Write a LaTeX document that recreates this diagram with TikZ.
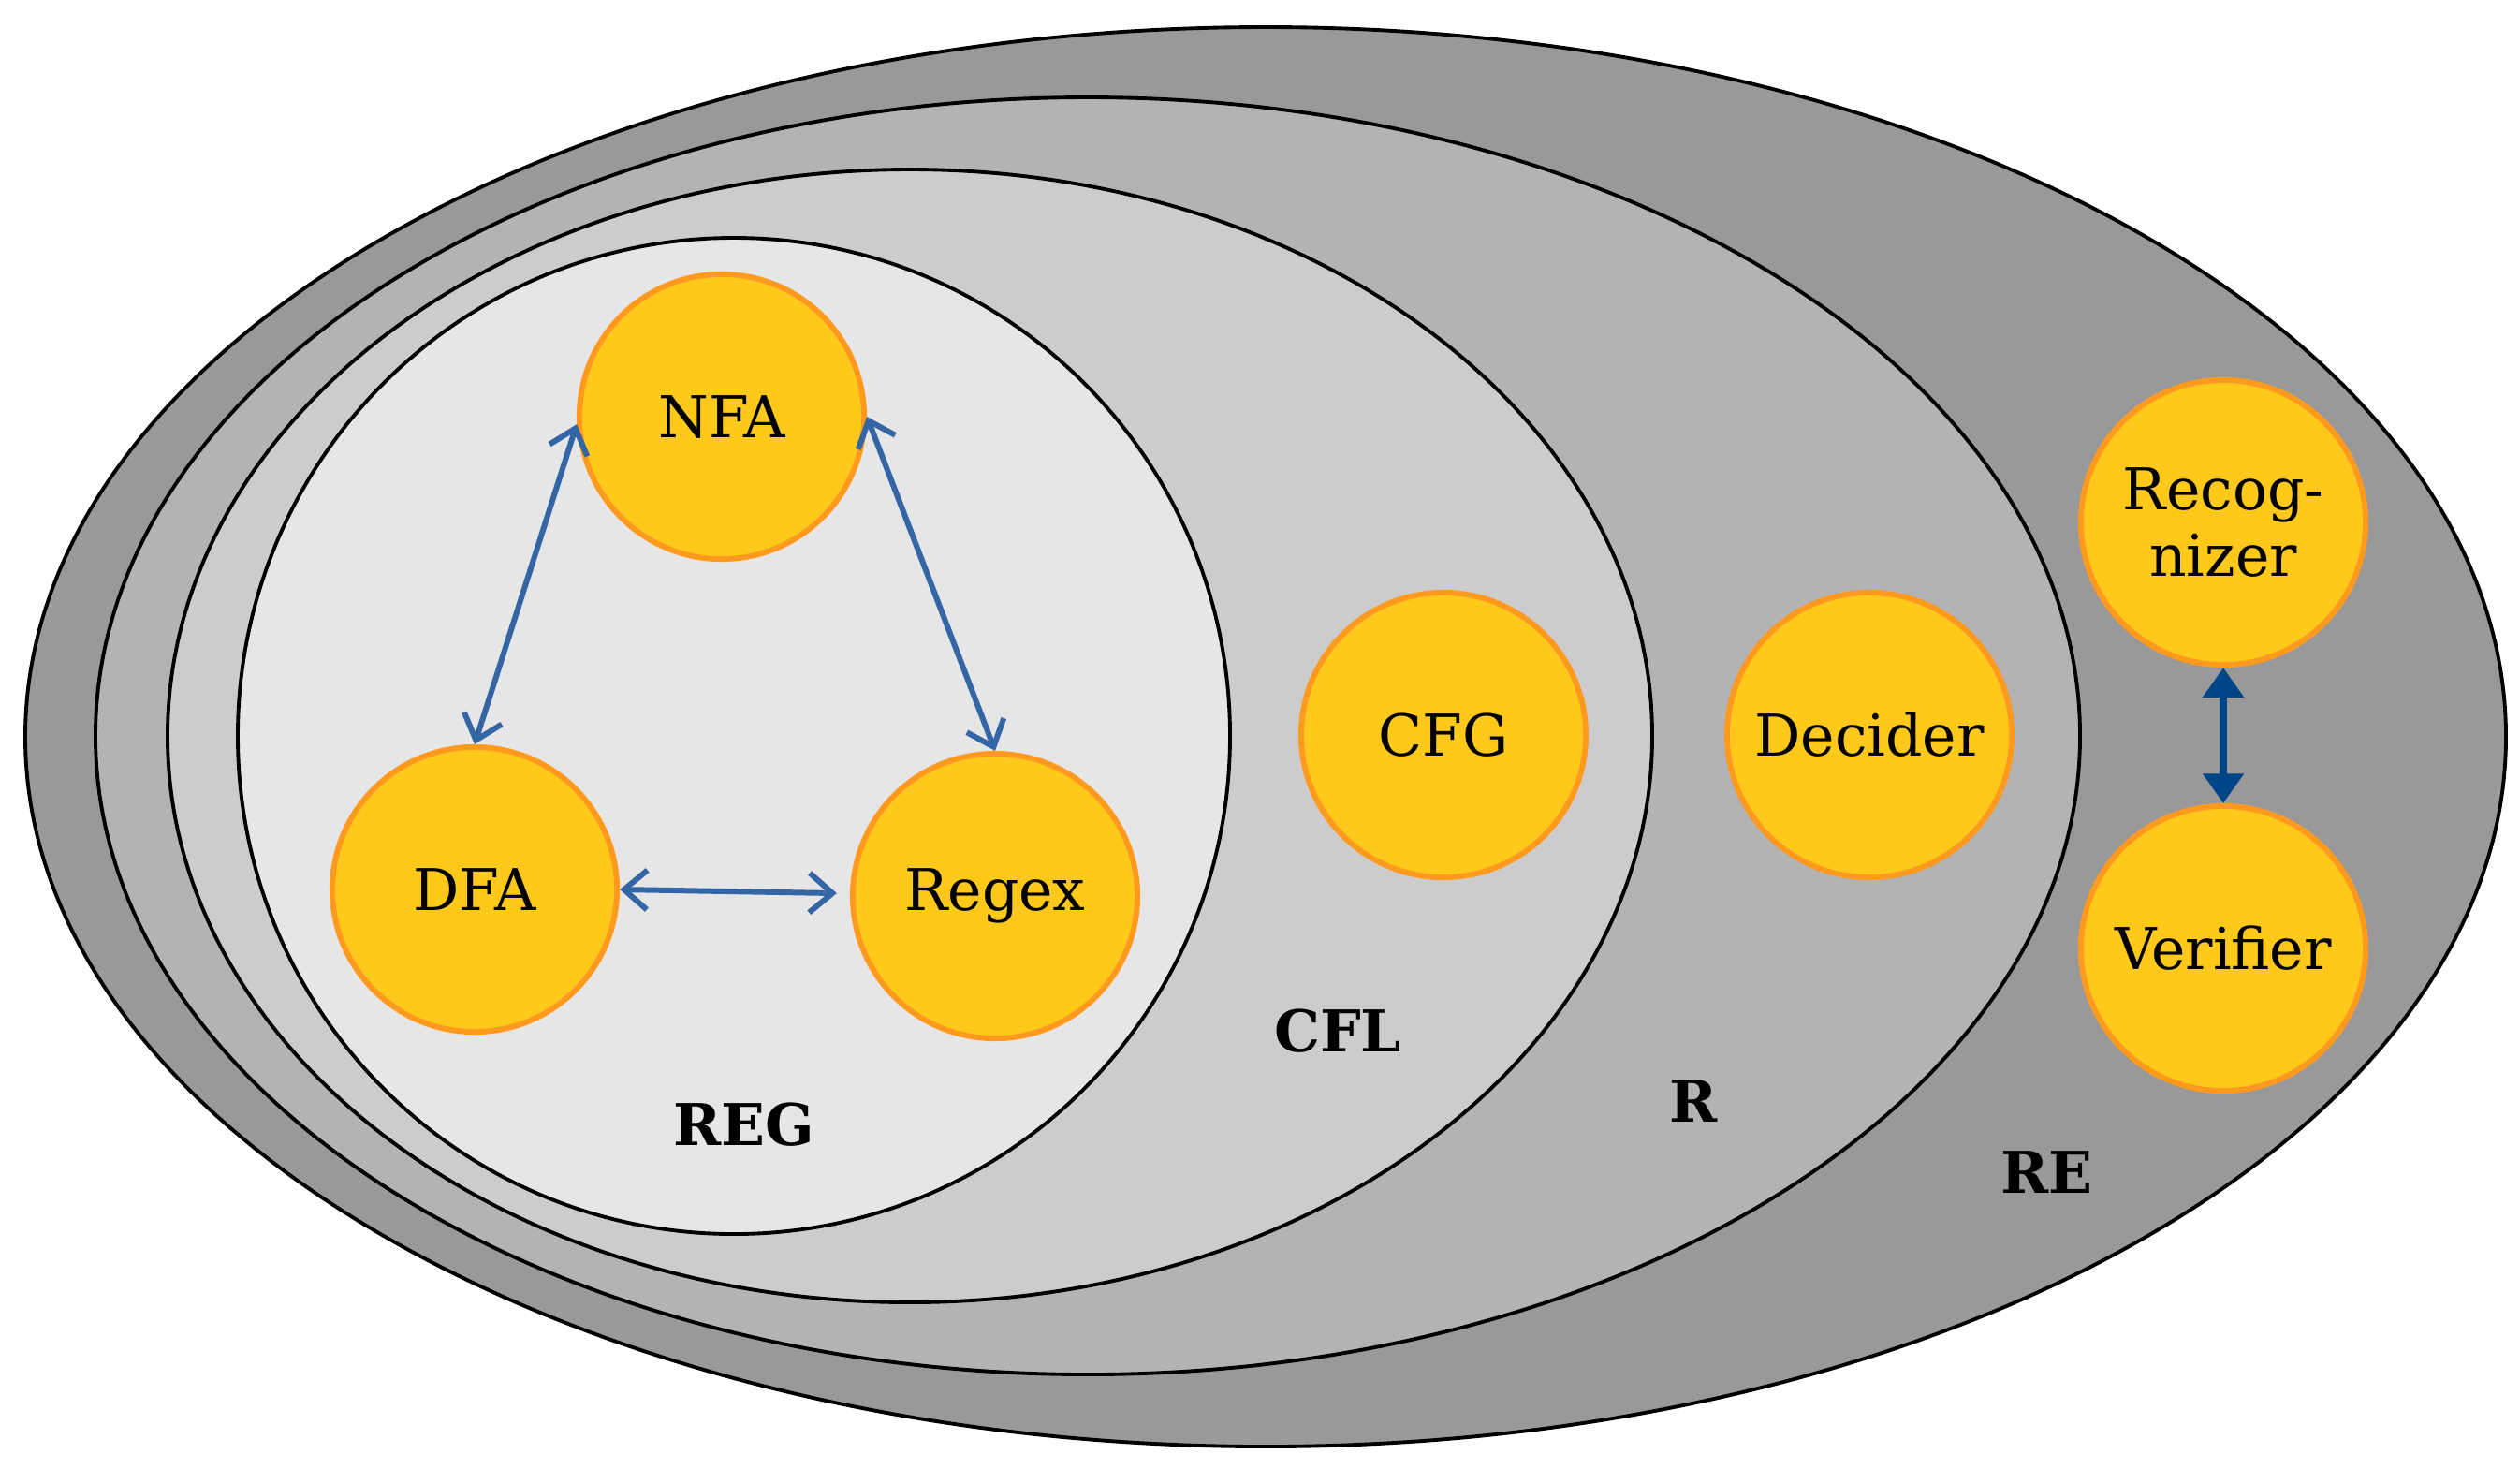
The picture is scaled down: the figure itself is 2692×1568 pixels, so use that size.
\documentclass[tikz,border=0pt]{standalone}
\usepackage{fontspec}
\setmainfont{DejaVu Serif}
\usetikzlibrary{arrows.meta}
\definecolor{classRE}{HTML}{999999}
\definecolor{classR}{HTML}{B3B3B3}
\definecolor{classCFL}{HTML}{CCCCCC}
\definecolor{classREG}{HTML}{E6E6E6}
\definecolor{machineFill}{HTML}{FFC91C}
\definecolor{machineEdge}{HTML}{FF9A1F}
\definecolor{linkBlue}{HTML}{3465A4}
\definecolor{linkDark}{HTML}{004586}

\begin{document}
\begin{tikzpicture}[x=0.01cm,y=-0.01cm,
  langclass/.style={draw=black,line width=1.1pt},
  machine/.style={circle,draw=machineEdge,fill=machineFill,line width=1.7pt,minimum size=3.04cm,inner sep=0pt,align=center,font=\fontsize{17.5}{20}\selectfont},
  classname/.style={font=\fontsize{17.5}{20}\selectfont\bfseries},
  equiv/.style={linkBlue,line width=1.7pt,{Straight Barb[length=7pt,width=12pt]}-{Straight Barb[length=7pt,width=12pt]}},
  bigequiv/.style={linkDark,line width=2.3pt,{Triangle[length=9pt,width=12pt]}-{Triangle[length=9pt,width=12pt]}}]
\useasboundingbox (0,0) rectangle (2692,1568);

\filldraw[langclass,fill=classRE] (1352,787) ellipse [x radius=1325,y radius=758];
\filldraw[langclass,fill=classR] (1162,786) ellipse [x radius=1060,y radius=682];
\filldraw[langclass,fill=classCFL] (972,786) ellipse [x radius=793,y radius=605];
\filldraw[langclass,fill=classREG] (784,786) ellipse [x radius=530,y radius=532];

\node[machine] (nfa) at (771,445) {NFA};
\node[machine] (dfa) at (507,950) {DFA};
\node[machine] (regex) at (1063,957) {Regex};
\node[machine] (cfg) at (1542,785) {CFG};
\node[machine] (decider) at (1997,785) {Decider};
\node[machine] (recognizer) at (2375,558) {Recog-\\nizer};
\node[machine] (verifier) at (2375,1013) {Verifier};

\node[classname] (reg) at (795,1201) {REG};
\node[classname] (cfl) at (1429,1101) {CFL};
\node[classname] (rdec) at (1809,1176) {R};
\node[classname] (re) at (2186,1252) {RE};

\draw[equiv] (nfa.183) -- (dfa.north);
\draw[equiv] (nfa.east) -- (regex.north);
\draw[equiv,shorten >=4pt] (dfa.east) -- (regex.179);
\draw[bigequiv] (recognizer.south) -- (verifier.north);
\end{tikzpicture}
\end{document}
